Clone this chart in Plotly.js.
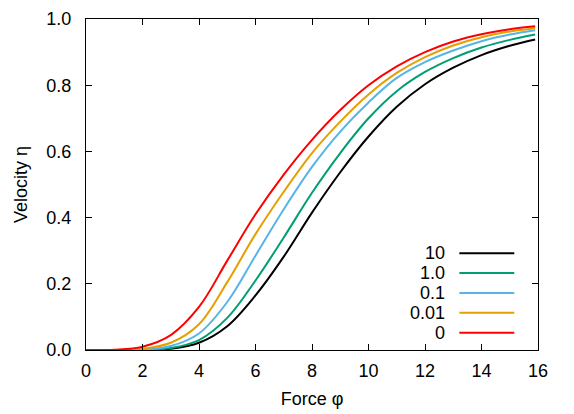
<!DOCTYPE html>
<html>
<head>
<meta charset="utf-8">
<script src="https://cdn.plot.ly/plotly-3.0.1.min.js"></script>
<style>
  html, body { margin: 0; padding: 0; background: #fff; }
  #chart { width: 574px; height: 414px; }
</style>
</head>
<body>
<div id="chart"></div>
<script>
// Force φ sample points
const force = [0, 1, 2, 3, 4, 5, 6, 7, 8, 9, 10, 11, 12, 13, 14, 15, 15.9];

// Velocity η for each parameter value
const eta10   = [0, 0, 0, 0.004, 0.022, 0.072, 0.165, 0.282, 0.415, 0.537, 0.645, 0.735, 0.803, 0.853, 0.891, 0.919, 0.938];
const eta1    = [0, 0, 0.0005, 0.006, 0.03, 0.097, 0.21, 0.34, 0.475, 0.595, 0.7, 0.782, 0.84, 0.882, 0.914, 0.937, 0.953];
const eta01   = [0, 0, 0.001, 0.012, 0.05, 0.145, 0.285, 0.425, 0.553, 0.66, 0.748, 0.822, 0.87, 0.905, 0.933, 0.953, 0.966];
const eta001  = [0, 0, 0.004, 0.022, 0.078, 0.205, 0.35, 0.478, 0.595, 0.69, 0.772, 0.837, 0.885, 0.92, 0.945, 0.962, 0.972];
const eta0    = [0, 0.001, 0.01, 0.045, 0.13, 0.27, 0.41, 0.53, 0.635, 0.725, 0.8, 0.857, 0.9, 0.932, 0.954, 0.969, 0.978];

const seriesNames  = ["10", "1.0", "0.1", "0.01", "0"];
const seriesValues = [eta10, eta1, eta01, eta001, eta0];
const seriesColors = ["#000000", "#009e73", "#56b4e9", "#e69f00", "#ff0000"];

const xTicks = [0, 2, 4, 6, 8, 10, 12, 14, 16];
const yTicks = [0, 0.2, 0.4, 0.6, 0.8, 1.0];
const yTickText = ["0.0", "0.2", "0.4", "0.6", "0.8", "1.0"];

const FONT = "Liberation Sans, Arial, Helvetica, sans-serif";

const traces = seriesNames.map((name, i) => ({
  type: "scatter",
  mode: "lines",
  name: name,
  x: force,
  y: seriesValues[i],
  line: { color: seriesColors[i], width: 2, shape: "spline", smoothing: 1.0 },
  showlegend: false,
  hoverinfo: "skip"
}));

// gnuplot-style key: right-aligned text, then a line sample
const keyTop = 0.2926, keyStep = 0.0601;
const shapes = [], annotations = [];
seriesNames.forEach((name, i) => {
  const yy = keyTop - i * keyStep;
  shapes.push({
    type: "line", xref: "paper", yref: "paper",
    x0: 0.826, x1: 0.9475, y0: yy, y1: yy,
    line: { color: seriesColors[i], width: 2 }
  });
  annotations.push({
    xref: "paper", yref: "paper", x: 0.798, y: yy,
    xanchor: "right", yanchor: "middle", showarrow: false,
    text: name, font: { family: FONT, size: 18, color: "#000" }
  });
});

const axisCommon = {
  showline: true, linecolor: "#000", linewidth: 1,
  mirror: "ticks", ticks: "inside", ticklen: 6, tickwidth: 1, tickcolor: "#000",
  showgrid: false, zeroline: false,
  tickfont: { family: FONT, size: 18, color: "#000" }
};

const layout = {
  width: 574, height: 414,
  margin: { l: 86, r: 36, t: 19, b: 64 },
  paper_bgcolor: "#fff", plot_bgcolor: "#fff",
  showlegend: false,
  xaxis: Object.assign({}, axisCommon, {
    range: [0, 16], tickvals: xTicks, ticktext: xTicks.map(String),
    ticklabelstandoff: 4,
    title: { text: "Force φ", font: { family: FONT, size: 18, color: "#000" }, standoff: 12 }
  }),
  yaxis: Object.assign({}, axisCommon, {
    range: [0, 1], tickvals: yTicks, ticktext: yTickText,
    ticklabelstandoff: 10,
    title: { text: "Velocity η", font: { family: FONT, size: 18, color: "#000" }, standoff: 14 }
  }),
  shapes: shapes,
  annotations: annotations
};

Plotly.newPlot("chart", traces, layout, { staticPlot: true, displayModeBar: false });
</script>
</body>
</html>
